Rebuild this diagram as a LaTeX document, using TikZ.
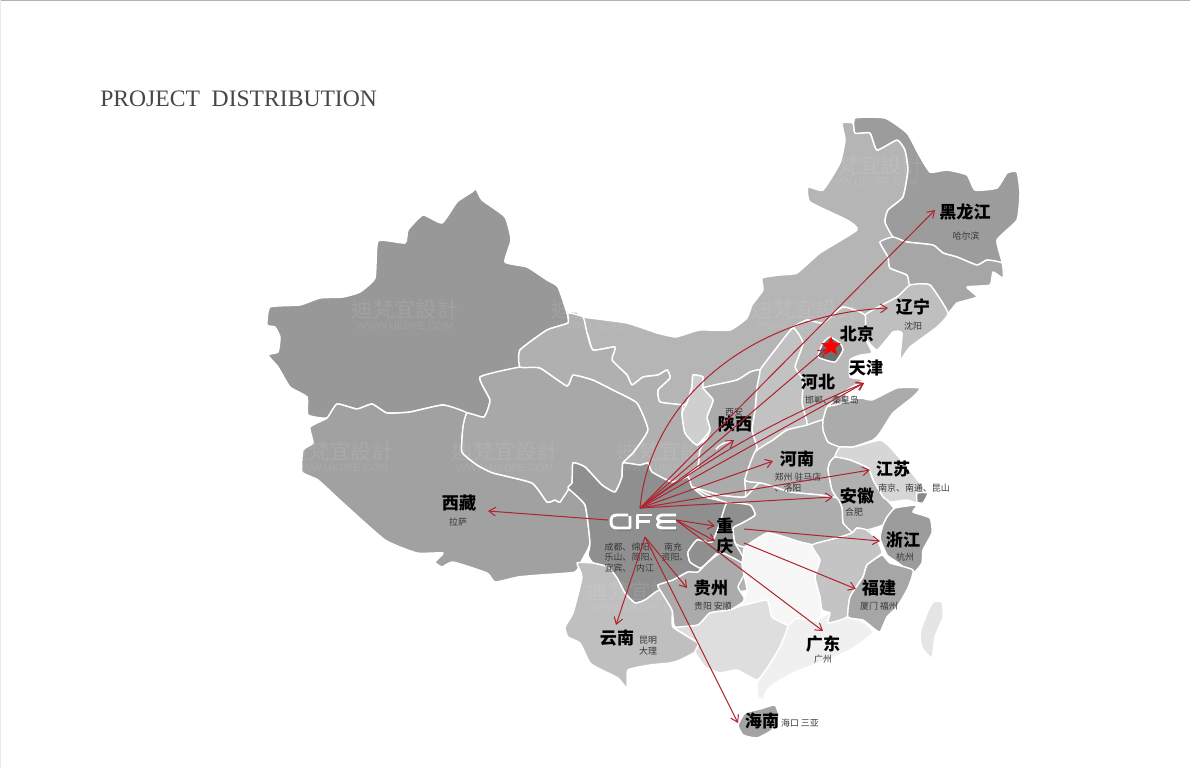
\documentclass[tikz,border=0pt]{standalone}
\usepackage{fontspec}
\setmainfont{Liberation Serif}
\newfontfamily\cjk{Noto Sans CJK SC}
\newfontfamily\cjktc{Noto Sans CJK TC}
\usetikzlibrary{arrows.meta,shapes.geometric}
\def\mapshape{plot[smooth cycle,tension=.28] coordinates}
\def\mapXJ{\mapshape{(476,189) (482,200) (505,217) (511,240) (505,262) (527,267) (547,280) (558,287) (567,313) (568,323) (547,330) (520,350) (520,367) (480,377) (490,400) (484,417) (467,413) (443,405) (410,412) (387,413) (372,404) (357,409) (337,404) (327,418) (308,415) (307,397) (290,387) (278,367) (268,355) (278,352) (280,337) (275,327) (267,325) (270,307) (300,305) (320,298) (343,297) (360,292) (375,278) (378,241) (405,243) (408,230) (423,215) (442,223) (457,202) (472,192)}}
\def\mapTB{\mapshape{(327,418) (337,404) (357,409) (372,404) (387,413) (410,412) (443,405) (467,413) (463,427) (462,452) (477,465) (493,473) (532,483) (547,502) (555,500) (560,502) (568,488) (585,505) (590,543) (582,560) (575,572) (540,575) (518,577) (495,582) (487,573) (453,562) (442,567) (435,562) (443,553) (417,553) (385,540) (343,503) (318,480) (302,472) (303,450) (313,443) (310,427)}}
\def\mapQH{\mapshape{(480,377) (520,367) (540,368) (567,386) (573,375) (593,380) (613,390) (637,403) (648,430) (633,453) (623,463) (622,477) (615,492) (602,485) (585,467) (573,463) (572,483) (560,502) (555,500) (547,502) (532,483) (493,473) (477,465) (462,452) (463,427) (467,413) (484,417) (490,400)}}
\def\mapGS{\mapshape{(520,350) (547,330) (568,323) (568,313) (583,317) (587,333) (593,350) (615,347) (612,360) (627,375) (632,385) (643,377) (658,375) (667,370) (670,378) (658,390) (660,402) (682,405) (682,413) (685,433) (697,445) (707,438) (700,450) (698,467) (690,473) (688,477) (672,482) (652,472) (648,463) (640,465) (623,463) (633,453) (648,430) (637,403) (613,390) (593,380) (573,375) (567,386) (540,368) (520,367)}}
\def\mapIM{\mapshape{(568,313) (577,312) (583,317) (627,323) (657,333) (675,337) (683,335) (700,330) (730,330) (747,318) (752,305) (763,290) (762,278) (780,275) (797,273) (820,253) (857,230) (847,220) (810,202) (808,187) (823,190) (840,163) (845,140) (842,123) (853,123) (855,133) (870,133) (877,150) (897,140) (905,150) (908,170) (903,197) (888,210) (885,222) (893,237) (880,242) (888,257) (890,268) (907,275) (910,285) (897,297) (865,315) (843,307) (823,323) (807,320) (793,328) (775,350) (760,370) (750,372) (737,380) (703,388) (703,377) (693,375) (692,387) (687,403) (682,405) (660,402) (658,390) (670,378) (667,370) (658,375) (643,377) (632,385) (627,375) (612,360) (615,347) (593,350) (587,333)}}
\def\mapHL{\mapshape{(855,118) (885,118) (907,133) (918,153) (930,172) (947,170) (967,175) (975,190) (997,188) (1007,173) (1017,172) (1020,193) (1017,220) (997,240) (1002,263) (987,260) (977,265) (957,257) (943,253) (933,245) (907,242) (893,237) (885,222) (888,210) (903,197) (908,170) (905,150) (897,140) (877,150) (870,133) (855,133)}}
\def\mapJL{\mapshape{(893,237) (907,242) (933,245) (943,253) (957,257) (977,265) (987,260) (1002,263) (1003,278) (993,272) (990,285) (967,287) (977,297) (957,303) (947,313) (930,285) (910,285) (907,275) (890,268) (888,257) (880,242)}}
\def\mapLN{\mapshape{(897,297) (910,285) (930,285) (948,313) (937,327) (910,347) (900,360) (902,333) (893,332) (877,350) (865,337) (865,315)}}
\def\mapHB{\mapshape{(807,320) (823,323) (843,307) (865,315) (865,337) (872,353) (858,356) (850,373) (863,380) (847,390) (827,407) (823,420) (807,425) (802,403) (803,380) (795,367) (803,343) (793,328)}}
\def\mapBJ{\mapshape{(830,337) (840,343) (843,350) (835,362) (818,357) (823,343)}}
\def\mapTJ{\mapshape{(850,360) (858,356) (870,355) (865,378) (850,377)}}
\def\mapSX{\mapshape{(793,328) (803,343) (795,367) (803,380) (802,403) (807,425) (787,430) (773,440) (755,452) (757,447) (752,430) (755,410) (757,387) (760,370) (775,350)}}
\def\mapSN{\mapshape{(703,388) (737,380) (750,372) (760,370) (757,387) (755,410) (752,430) (757,447) (755,452) (745,480) (745,497) (720,495) (692,487) (688,477) (690,473) (698,467) (700,450) (707,438) (710,430) (707,417) (713,400)}}
\def\mapNX{\mapshape{(693,375) (703,377) (703,388) (713,400) (707,417) (710,430) (697,445) (685,433) (682,413) (687,403) (692,387)}}
\def\mapHA{\mapshape{(755,452) (773,440) (787,430) (807,425) (823,420) (825,432) (828,442) (840,447) (835,457) (830,462) (828,470) (832,490) (837,498) (820,495) (790,492) (760,483) (745,480)}}
\def\mapSD{\mapshape{(823,420) (827,407) (835,405) (860,398) (872,400) (897,388) (920,388) (913,397) (893,413) (880,433) (873,440) (853,447) (840,447) (828,442) (823,430)}}
\def\mapJS{\mapshape{(840,447) (853,447) (880,440) (890,447) (907,467) (922,487) (918,503) (907,500) (890,502) (883,497) (873,480) (868,468) (850,460) (835,457)}}
\def\mapSH{\mapshape{(917,493) (928,493) (923,503) (917,502)}}
\def\mapAH{\mapshape{(830,462) (835,457) (850,460) (868,468) (873,480) (883,497) (887,500) (895,510) (887,517) (883,525) (867,530) (857,528) (852,533) (843,523) (842,508) (837,498) (832,490) (828,470)}}
\def\mapZJ{\mapshape{(895,508) (917,505) (913,512) (930,518) (932,533) (923,550) (922,563) (913,573) (897,562) (887,555) (880,538) (883,525) (887,517)}}
\def\mapHU{\mapshape{(692,487) (720,495) (745,497) (760,483) (790,492) (820,495) (837,498) (842,508) (843,523) (852,533) (837,538) (812,545) (800,542) (768,533) (745,547) (735,543) (733,528) (742,523) (755,515) (750,505) (727,503)}}
\def\mapSC{\mapshape{(568,488) (572,483) (573,463) (585,467) (602,485) (615,492) (622,477) (623,463) (640,465) (648,463) (652,472) (672,482) (688,477) (692,487) (705,497) (727,503) (720,523) (712,542) (697,540) (688,552) (690,562) (700,568) (698,577) (688,572) (673,580) (658,585) (660,590) (645,600) (635,603) (625,593) (617,578) (608,567) (593,563) (588,555) (590,543) (585,505)}}
\def\mapCQ{\mapshape{(727,503) (750,505) (755,515) (742,523) (733,528) (735,543) (743,557) (742,565) (723,553) (717,553) (707,563) (700,568) (690,562) (688,552) (697,540) (712,542) (720,523)}}
\def\mapGZ{\mapshape{(658,585) (673,580) (688,572) (698,572) (707,563) (717,555) (723,553) (742,563) (745,573) (738,587) (745,600) (730,610) (710,613) (698,625) (675,627) (672,610) (660,590)}}
\def\mapYN{\mapshape{(577,563) (593,563) (608,567) (617,578) (625,593) (635,603) (645,600) (660,590) (672,610) (673,627) (698,643) (695,652) (680,660) (670,663) (650,665) (628,670) (627,688) (618,678) (602,670) (590,663) (580,643) (568,637) (565,627) (573,613) (582,577)}}
\def\mapGX{\mapshape{(675,628) (698,625) (710,613) (730,610) (743,605) (767,600) (772,617) (788,625) (780,647) (768,667) (757,680) (737,670) (720,673) (705,667) (700,660) (695,652) (698,643)}}
\def\mapGD{\mapshape{(788,625) (772,617) (797,618) (815,620) (830,613) (828,623) (848,617) (865,623) (873,633) (850,650) (827,660) (800,670) (780,680) (767,690) (763,700) (758,697) (757,683) (768,667) (780,647)}}
\def\mapHN{\mapshape{(745,547) (768,533) (800,542) (812,545) (820,560) (815,577) (820,597) (822,612) (817,621) (797,618) (788,625) (772,617) (767,600) (743,605) (747,590) (742,565) (743,557)}}
\def\mapJX{\mapshape{(812,545) (837,538) (852,533) (857,528) (867,530) (877,540) (882,553) (867,565) (863,577) (850,597) (847,617) (828,623) (830,613) (822,610) (820,597) (815,577) (820,560)}}
\def\mapFJ{\mapshape{(882,555) (890,563) (913,570) (908,588) (897,607) (887,617) (880,632) (872,627) (863,620) (848,617) (850,597) (863,577) (867,565)}}
\def\mapTW{\mapshape{(933,602) (942,602) (943,617) (935,637) (932,658) (922,648) (920,633) (927,613)}}
\def\mapHI{\mapshape{(745,713) (760,709) (775,705) (779,717) (772,730) (757,738) (743,735) (738,725)}}
\tikzset{
  prov/.style={draw=white,line width=1.1pt,line join=round},
  provlabel/.style={font=\cjk\bfseries\fontsize{12.8}{14}\selectfont,text=black,inner sep=0pt},
  citylabel/.style={font=\cjk\fontsize{6.7}{8}\selectfont,text=black!78,inner sep=0pt},
  wmcn/.style={font=\cjktc\fontsize{16}{18}\selectfont,text=white,opacity=.09,inner sep=0pt},
  wmen/.style={font=\fontspec{Liberation Sans}\fontsize{8}{9}\selectfont,text=white,opacity=.09,inner sep=0pt},
  link/.style={draw=linkred,line width=.75pt,-{Straight Barb[length=5pt,width=6.5pt]}},
  logostroke/.style={draw=white,line width=2.2pt,line cap=butt,line join=round}
}
\definecolor{linkred}{HTML}{B0222E}
\begin{document}
\begin{tikzpicture}[x=.75pt,y=-.75pt]
\useasboundingbox (0,0) rectangle (1190,768);
\fill[white] (0,0) rectangle (1190,768);
\draw[black!30,line width=.75pt] (0,.5) -- (1190,.5);
\draw[black!8,line width=.75pt] (.5,0) -- (.5,768);
\node[anchor=west,inner sep=0pt,text=black!72,font=\fontsize{17.7}{19}\selectfont] (title) at (100,99) {PROJECT\ \ DISTRIBUTION};
% land base under the provinces, so no holes show between them
\fill[black!30] (530,372) -- (640,340) -- (720,340) -- (790,335) -- (845,350) -- (845,400) -- (850,440) -- (870,490) -- (870,530) -- (850,590) -- (745,590) -- (690,600) -- (640,590) -- (600,550) -- (590,480) -- cycle;
% provinces
\fill[prov,fill=black!40.5] \mapXJ;
\fill[prov,fill=black!37] \mapTB;
\fill[prov,fill=black!34] \mapQH;
\fill[prov,fill=black!29] \mapIM;
\fill[prov,fill=black!31] \mapGS;
\fill[prov,fill=black!39] \mapHL;
\fill[prov,fill=black!35] \mapJL;
\fill[prov,fill=black!25] \mapLN;
\fill[prov,fill=black!27] \mapHB;
\fill[prov,fill=black!24] \mapSX;
\fill[prov,fill=black!33] \mapSN;
\fill[prov,fill=black!19] \mapNX;
\fill[prov,fill=black!30] \mapHA;
\fill[prov,fill=black!33] \mapSD;
\fill[prov,fill=black!16] \mapJS;
\fill[prov,fill=black!31] \mapAH;
\fill[prov,fill=black!39] \mapZJ;
\fill[prov,fill=black!46] \mapSH;
\fill[prov,fill=black!32] \mapHU;
\fill[prov,fill=black!44] \mapSC;
\fill[prov,fill=black!44] \mapCQ;
\fill[prov,fill=black!25] \mapYN;
\fill[prov,fill=black!33] \mapGZ;
\fill[prov,fill=black!13] \mapGX;
\fill[prov,fill=black!6] \mapGD;
\fill[prov,fill=black!3] \mapHN;
\fill[prov,fill=black!23] \mapJX;
\fill[prov,fill=black!35] \mapFJ;
\fill[prov,fill=black!10] \mapTW;
\fill[prov,fill=black!36] \mapHI;
\fill[prov,fill=black!57] \mapBJ;
\fill[prov,fill=white] \mapTJ;
\draw[white,line width=1.1pt] (716,449) .. controls (720,444) and (726,442) .. (732,441);
% watermark
\begin{scope}
\clip \mapXJ \mapTB \mapQH \mapIM \mapGS \mapHL \mapSC \mapYN \mapSN \mapHB;
\foreach \wx/\wy/\wn in {405/309/a,605/309/b,805/309/c,870/165/d,340/451/e,505/451/f,670/451/g,640/591/h}{
  \node[wmcn] (wm\wn) at (\wx,\wy) {迪梵宜設計};
  \node[wmen] (we\wn) at (\wx,\wy+17) {WWW.UKDFE.COM};
}
\end{scope}
% logo
\draw[logostroke,draw=black!60,opacity=.45] (617,529.2) -- (631,529.2) (638,530) -- (638,523) (662,529.2) -- (677,529.2);
\draw[logostroke] (628,515) -- (617,515) .. controls (612,515) and (611,518) .. (611,521.5) .. controls (611,525) and (612,528) .. (617,528) -- (630,528) -- (630,516);
\draw[logostroke] (637.5,529) -- (637.5,515) -- (652,515) (637.5,521.5) -- (650,521.5);
\draw[logostroke] (676,515) -- (662,515) .. controls (659,515) and (657.5,517) .. (657.5,518.5) .. controls (657.5,520) and (659,521.5) .. (662,521.5) -- (676,521.5);
\draw[logostroke] (662,521.5) .. controls (659,521.5) and (657.5,523) .. (657.5,525) .. controls (657.5,526.5) and (659,528) .. (662,528) -- (676,528);
% labels
\node[provlabel] (hlj) at (965,212) {黑龙江};
\node[citylabel] (heb) at (966,236) {哈尔滨};
\node[provlabel] (ln) at (913,307) {辽宁};
\node[citylabel] (sy) at (913,326) {沈阳};
\node[provlabel] (bjl) at (857,334) {北京};
\node[provlabel] (tj) at (866,368) {天津};
\node[provlabel] (heb2) at (818,382) {河北};
\node[citylabel] (hd) at (832,400) {邯郸、秦皇岛};
\node[citylabel] (xa) at (734,412) {西安};
\node[provlabel] (sxl) at (735,424) {陕西};
\node[provlabel] (hn) at (797,459) {河南};
\node[citylabel] (zz) at (798,477) {郑州 驻马店};
\node[citylabel] (ly) at (788,488) {、洛阳};
\node[provlabel] (js) at (893,469) {江苏};
\node[citylabel] (nj) at (914,488) {南京、南通、昆山};
\node[provlabel] (ah) at (857,496) {安徽};
\node[citylabel] (hf) at (854,512) {合肥};
\node[provlabel] (zj) at (903,540) {浙江};
\node[citylabel] (hz) at (905,557) {杭州};
\node[provlabel] (fj) at (879,588) {福建};
\node[citylabel] (xm) at (879,606) {厦门 福州};
\node[provlabel] (gd) at (823,644) {广东};
\node[citylabel] (gz) at (823,659) {广州};
\node[provlabel] (cq1) at (725,526) {重};
\node[provlabel] (cq2) at (725,546) {庆};
\node[provlabel] (gzl) at (711,588) {贵州};
\node[citylabel] (gy) at (713,606) {贵阳 安顺};
\node[provlabel] (yn) at (617,638) {云南};
\node[citylabel] (km) at (648,640) {昆明};
\node[citylabel] (dl) at (648,651) {大理};
\node[provlabel] (hi) at (762,721) {海南};
\node[citylabel] (hk) at (800,723) {海口 三亚};
\node[provlabel] (xz) at (459,503) {西藏};
\node[citylabel] (ls) at (458,522) {拉萨};
\node[citylabel] (sc1) at (618,547) {成都、};
\node[citylabel] (sc2) at (645,547) {绵阳、};
\node[citylabel] (sc3) at (673,547) {南充};
\node[citylabel] (sc4) at (618,557) {乐山、};
\node[citylabel] (sc5) at (645,557) {简阳、};
\node[citylabel] (sc6) at (675,557) {资阳、};
\node[citylabel] (sc7) at (618,568) {宜宾、};
\node[citylabel] (sc8) at (645,568) {内江};
% connector ends
\coordinate (hubA) at (640,508);
\coordinate (hubB) at (645,537);
\coordinate (hubC) at (676,520);
\coordinate (hubD) at (608,520);
\coordinate (hubE) at (744,529);
\coordinate (hubF) at (744,543);
\coordinate (toHL) at (935,210);
\coordinate (toLN) at (888,308);
\coordinate (toBJ) at (826,349);
\coordinate (toTJ) at (864,383);
\coordinate (toSN) at (734,440);
\coordinate (toHA) at (773,461);
\coordinate (toJS) at (870,470);
\coordinate (toAH) at (833,497);
\coordinate (toXZ) at (488,511);
\coordinate (toCQa) at (715,526);
\coordinate (toCQb) at (715,541);
\coordinate (toGD) at (823,631);
\coordinate (toZJ) at (880,541);
\coordinate (toFJ) at (856,589);
\coordinate (toYN) at (616,625);
\coordinate (toGZ) at (687,588);
\coordinate (toHI) at (738,723);
% connectors
\draw[link] (hubA) -- (toHL);
\draw[link] (hubA) .. controls (650,400) and (750,315) .. (toLN);
\draw[link] (hubA) -- (toBJ);
\draw[link] (hubA) to[bend left=6] (toTJ);
\draw[link] (hubA) -- (toTJ);
\draw[link] (hubA) -- (toSN);
\draw[link] (hubA) -- (toHA);
\draw[link] (hubA) -- (toJS);
\draw[link] (hubA) -- (toAH);
\draw[link] (hubD) -- (toXZ);
\draw[link] (hubC) -- (toCQa);
\draw[link] (hubC) -- (toCQb);
\draw[link] (hubC) -- (toGD);
\draw[link] (hubE) -- (toZJ);
\draw[link] (hubF) -- (toFJ);
\draw[link] (hubB) -- (toYN);
\draw[link] (hubB) -- (toGZ);
\draw[link] (hubB) -- (toHI);
\node[star,star points=5,star point ratio=2.3,fill=red,inner sep=0pt,minimum size=15.5pt] (bjstar) at (831,346.5) {};
\end{tikzpicture}
\end{document}
